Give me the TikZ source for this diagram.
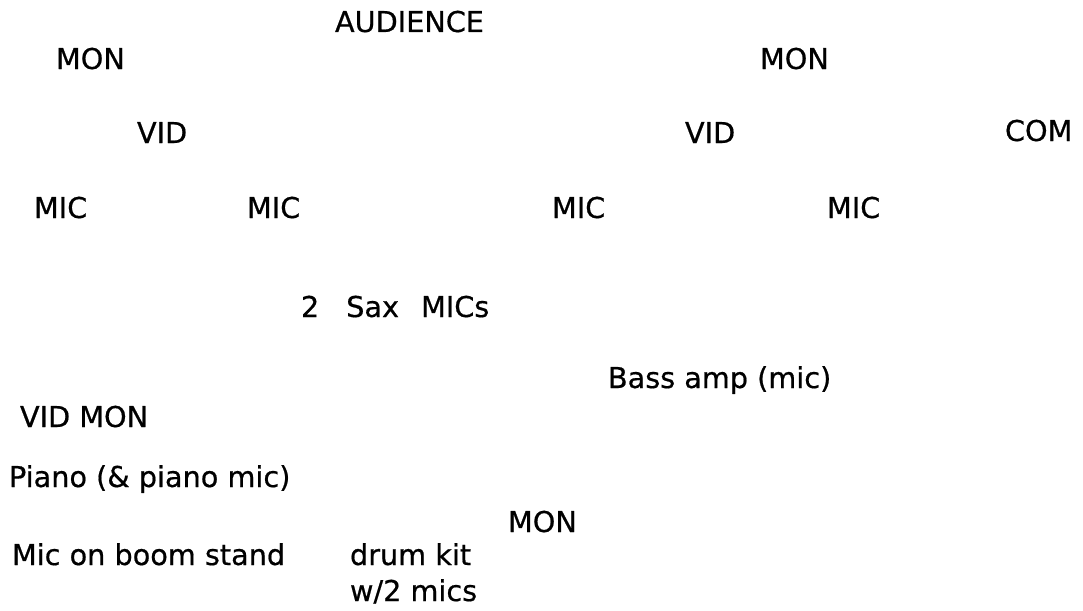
\documentclass[tikz,border=0pt]{standalone}
\usepackage{fontspec}
\setmainfont{DejaVu Sans}[FakeBold=0.6]
\begin{document}
\begin{tikzpicture}[x=1pt,y=-1pt,
  lbl/.style={anchor=base west,inner sep=0pt,outer sep=0pt,font=\fontsize{28.7}{36}\selectfont,text=black}]
\useasboundingbox[fill=white] (0,0) rectangle (1083,610);
\node[lbl] (aud) at (335,32) {AUDIENCE};
\node[lbl] (monL) at (56,69) {MON};
\node[lbl] (monR) at (760,69) {MON};
\node[lbl] (vidL) at (137,143) {VID};
\node[lbl] (vidR) at (685,143) {VID};
\node[lbl] (com) at (1005,141) {COM};
\node[lbl] (mic1) at (34,218) {MIC};
\node[lbl] (mic2) at (247,218) {MIC};
\node[lbl] (mic3) at (552,218) {MIC};
\node[lbl] (mic4) at (827,218) {MIC};
\node[lbl] (sax) at (301,317) {2\hspace{27pt}Sax\hspace{22pt}MICs};
\node[lbl] (bass) at (608,388) {Bass amp (mic)};
\node[lbl] (vidmon) at (20,427) {VID MON};
\node[lbl] (piano) at (9,487) {Piano (\& piano mic)};
\node[lbl] (monB) at (508,532) {MON};
\node[lbl] (boom) at (12,565) {Mic on boom stand};
\node[lbl] (drum) at (350,565) {drum kit};
\node[lbl] (drummics) at (350,601) {w/2 mics};
\end{tikzpicture}
\end{document}
